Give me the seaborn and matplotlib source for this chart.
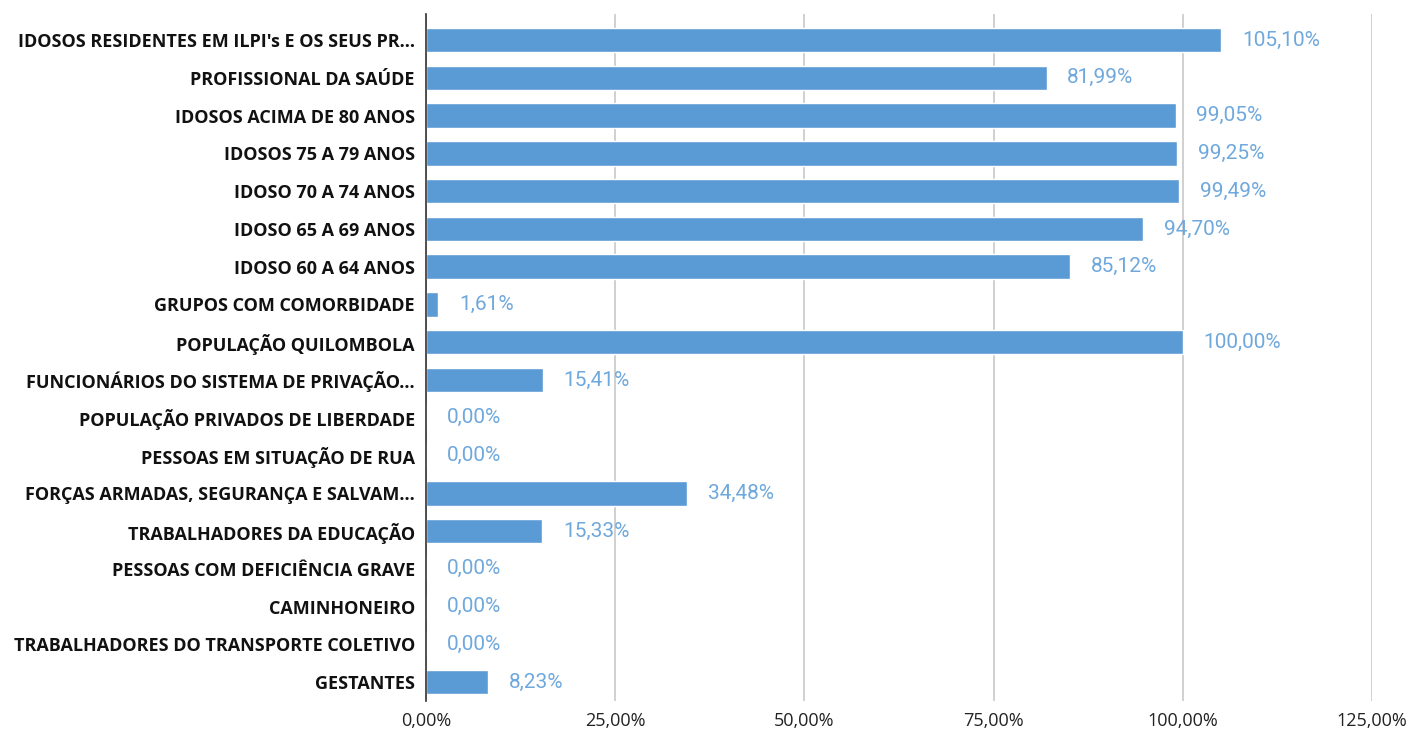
import matplotlib
matplotlib.use("Agg")
import matplotlib.pyplot as plt
import seaborn as sns
import pandas as pd
from matplotlib.ticker import FuncFormatter

categories = [
    "IDOSOS RESIDENTES EM ILPI's E OS SEUS PR...",
    "PROFISSIONAL DA SAÚDE",
    "IDOSOS ACIMA DE 80 ANOS",
    "IDOSOS 75 A 79 ANOS",
    "IDOSO 70 A 74 ANOS",
    "IDOSO 65 A 69 ANOS",
    "IDOSO 60 A 64 ANOS",
    "GRUPOS COM COMORBIDADE",
    "POPULAÇÃO QUILOMBOLA",
    "FUNCIONÁRIOS DO SISTEMA DE PRIVAÇÃO...",
    "POPULAÇÃO PRIVADOS DE LIBERDADE",
    "PESSOAS EM SITUAÇÃO DE RUA",
    "FORÇAS ARMADAS, SEGURANÇA E SALVAM...",
    "TRABALHADORES DA EDUCAÇÃO",
    "PESSOAS COM DEFICIÊNCIA GRAVE",
    "CAMINHONEIRO",
    "TRABALHADORES DO TRANSPORTE COLETIVO",
    "GESTANTES",
]
coverage = [105.10, 81.99, 99.05, 99.25, 99.49, 94.70, 85.12, 1.61, 100.00,
            15.41, 0.00, 0.00, 34.48, 15.33, 0.00, 0.00, 0.00, 8.23]
x_ticks = [0, 25, 50, 75, 100, 125]

bar_color = "#5B9BD5"
label_color = "#6FA8DC"

df = pd.DataFrame({"grupo": categories, "cobertura": coverage})

sns.set_theme(style="white")
plt.rcParams["font.family"] = ["Open Sans", "DejaVu Sans"]

fig = plt.figure(figsize=(14.11, 7.38), dpi=100)
ax = fig.add_axes([426 / 1411, 1 - 701 / 738, (1372 - 426) / 1411, (701 - 14) / 738])

sns.barplot(data=df, x="cobertura", y="grupo", color=bar_color, width=0.65,
            saturation=1, ax=ax, zorder=3)

for i, v in enumerate(coverage):
    txt = f"{v:.2f}%".replace(".", ",")
    ax.annotate(txt, xy=(v, i), xytext=(15, 0), textcoords="offset points",
                va="center", ha="left", color=label_color, fontsize=15,
                family=["Roboto", "DejaVu Sans"])

ax.set_xlim(0, 125)
ax.set_ylim(17.5, -0.69)
ax.set_xticks(x_ticks)
ax.xaxis.set_major_formatter(FuncFormatter(lambda x, _: f"{x:.2f}%".replace(".", ",")))
ax.grid(axis="x", color="#C8C8C8", linewidth=1.2, zorder=0)
ax.set_axisbelow(True)
for s in ["top", "right", "bottom"]:
    ax.spines[s].set_visible(False)
ax.spines["left"].set_color("#333333")
ax.spines["left"].set_linewidth(1.2)
ax.spines["left"].set_zorder(5)
ax.set_xlabel("")
ax.set_ylabel("")
ax.tick_params(axis="x", length=0, labelsize=13, labelcolor="#222222", pad=8)
ax.tick_params(axis="y", length=0, labelsize=13, labelcolor="#111111", pad=8)
for lbl in ax.get_yticklabels():
    lbl.set_fontweight("bold")

fig.savefig("out.png", dpi=100)
